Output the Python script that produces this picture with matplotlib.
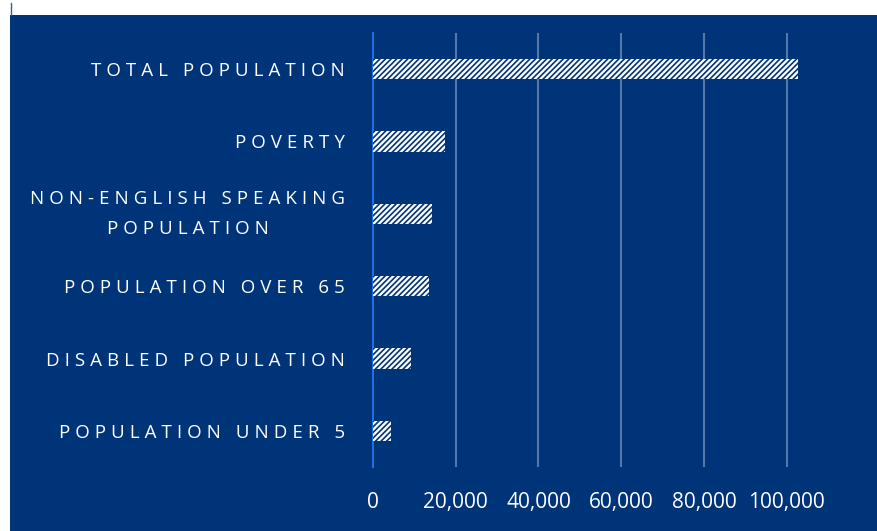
import matplotlib.pyplot as plt
from matplotlib.patches import Rectangle
from matplotlib.lines import Line2D

categories = ['TOTAL POPULATION', 'POVERTY', 'NON-ENGLISH SPEAKING\nPOPULATION',
              'POPULATION OVER 65', 'DISABLED POPULATION', 'POPULATION UNDER 5']
values = [102850, 17500, 14200, 13500, 9200, 4300]
xticks = [0, 20000, 40000, 60000, 80000, 100000]

navy = '#003478'
plt.rcParams['font.family'] = ['Open Sans', 'DejaVu Sans']
plt.rcParams['hatch.linewidth'] = 1.2


def spaced(s):
    # letter spacing like the original
    return '\n'.join('\u2009\u200a'.join(line) for line in s.split('\n'))


fig = plt.figure(figsize=(8.77, 5.31), dpi=100, facecolor='white')
fig.patches.append(Rectangle((10 / 877, 0), 1, 516 / 531, transform=fig.transFigure,
                             facecolor=navy, edgecolor='none', zorder=-10))
fig.lines.append(Line2D([10.5 / 877, 10.5 / 877], [516 / 531, 528 / 531],
                        transform=fig.transFigure, color='#2f5f9f', lw=1))

ax = fig.add_axes([373 / 877, 64 / 531, 455 / 877, 434 / 531])
ax.set_facecolor(navy)

ypos = list(range(len(categories)))
ax.barh(ypos, values, height=0.28, color='white', edgecolor=navy, hatch='//////',
        linewidth=0, zorder=3)

ax.set_xlim(0, 110000)
ax.set_ylim(len(categories) - 0.5, -0.5)
ax.set_xticks(xticks)
ax.set_xticklabels([f'{v:,}' for v in xticks])
ax.set_yticks(ypos)
labels = ax.set_yticklabels([spaced(c) for c in categories], multialignment='center',
                            linespacing=1.9)
for lab in labels:
    if '\n' in lab.get_text():
        lab.set_verticalalignment('center')

ax.tick_params(axis='x', length=0, pad=18, labelsize=15, colors='white')
ax.tick_params(axis='y', length=0, pad=20, labelsize=13.5, colors='white')

for v in xticks[1:]:
    ax.axvline(v, color='#5478a8', lw=1.5, zorder=1)

for s in ['top', 'right', 'bottom']:
    ax.spines[s].set_visible(False)
ax.spines['left'].set_color('#1f6fe0')
ax.spines['left'].set_linewidth(1.5)

fig.savefig('out.png', dpi=100, facecolor=fig.get_facecolor())
